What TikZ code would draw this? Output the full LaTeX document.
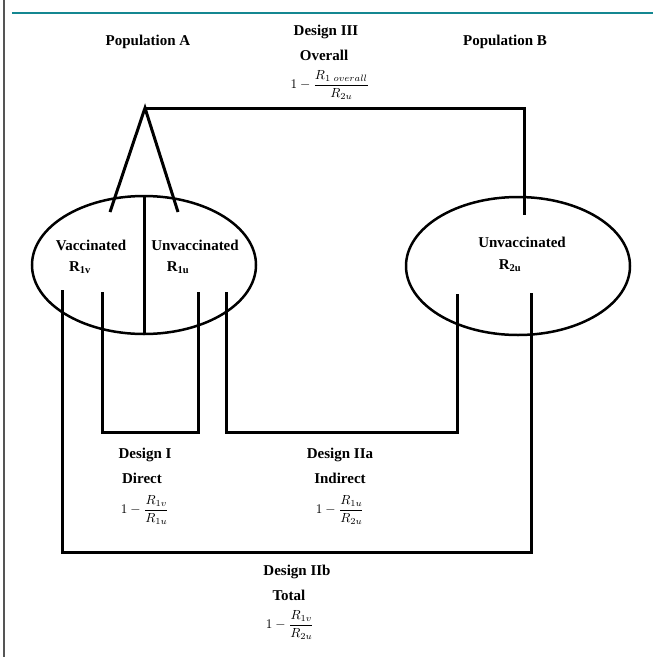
\documentclass[tikz,border=0pt]{standalone}
\usepackage{fontspec}
\setmainfont{Liberation Serif}
\usepackage{amsmath}
\usepackage{graphicx}
\usetikzlibrary{shapes}
\definecolor{rulecolor}{RGB}{20,135,145}
\definecolor{bordercolor}{RGB}{85,85,85}
\newcommand{\effect}[2]{\scalebox{1.32}{$1-\dfrac{#1}{#2}$}}

\begin{document}
\begin{tikzpicture}[x=1pt,y=-1pt,
    title/.style={font=\fontsize{15}{18}\selectfont\bfseries, inner sep=1pt},
    formula/.style={inner sep=1pt},
    wire/.style={line width=3pt, line join=miter},
    pop/.style={ellipse, draw, line width=2.5pt,
                minimum width=224pt, minimum height=138pt}]

  \useasboundingbox (0,0) rectangle (653,657);

  % page rules
  \coordinate (borderT) at (4,0);
  \coordinate (borderB) at (4,657);
  \coordinate (ruleL) at (12,13);
  \coordinate (ruleR) at (653,13);
  \draw[bordercolor, line width=2pt] (borderT) -- (borderB);
  \draw[rulecolor, line width=1.5pt] (ruleL) -- (ruleR);

  % populations
  \node[pop] (popA) at (144,265) {};
  \node[pop] (popB) at (518,266) {};

  \node[title] (nameA) at (148,42) {Population A};
  \node[title] (nameB) at (505,42) {Population B};

  \node[title] (vac) at (91,245) {Vaccinated};
  \node[title] (rOneV) at (80,268) {R\textsubscript{1v}};
  \node[title] (unvacA) at (195,245) {Unvaccinated};
  \node[title] (rOneU) at (178,268) {R\textsubscript{1u}};
  \node[title] (unvacB) at (522,242) {Unvaccinated};
  \node[title] (rTwoU) at (510,266) {R\textsubscript{2u}};

  % design labels
  \node[title] (dThree) at (326,32) {Design III};
  \node[title] (overall) at (324,55) {Overall};
  \node[formula] (fThree) at (330,85) {\effect{R_{1\ overall}}{R_{2u}}};

  \node[title] (dOne) at (145,455) {Design I};
  \node[title] (direct) at (142,478) {Direct};
  \node[formula] (fOne) at (145,510) {\effect{R_{1v}}{R_{1u}}};

  \node[title] (dTwoA) at (340,455) {Design IIa};
  \node[title] (indirect) at (340,478) {Indirect};
  \node[formula] (fTwoA) at (340,510) {\effect{R_{1u}}{R_{2u}}};

  \node[title] (dTwoB) at (297,572) {Design IIb};
  \node[title] (total) at (289,595) {Total};
  \node[formula] (fTwoB) at (290,625) {\effect{R_{1v}}{R_{2u}}};

  % design III path
  \coordinate (apex) at (145,108);
  \coordinate (legL) at (110,212);
  \coordinate (legR) at (178,212);
  \coordinate (cornerIII) at (524,108);
  \coordinate (endIII) at (524,215);
  \draw[wire] (legL) -- (apex) -- (legR);
  \draw[wire] (apex) -- (cornerIII) -- (endIII);
  \draw[wire] (popA.north) -- (popA.south);

  % design I path
  \coordinate (startI) at (102,292);
  \coordinate (cornerIa) at (102,432);
  \coordinate (cornerIb) at (198,432);
  \coordinate (endI) at (198,292);
  \draw[wire] (startI) -- (cornerIa) -- (cornerIb) -- (endI);

  % design IIa path
  \coordinate (startIIa) at (226,292);
  \coordinate (cornerIIa) at (226,432);
  \coordinate (cornerIIb) at (457,432);
  \coordinate (endIIa) at (457,294);
  \draw[wire] (startIIa) -- (cornerIIa) -- (cornerIIb) -- (endIIa);

  % design IIb path
  \coordinate (startIIb) at (62,290);
  \coordinate (cornerIIc) at (62,552);
  \coordinate (cornerIId) at (531,552);
  \coordinate (endIIb) at (531,293);
  \draw[wire] (startIIb) -- (cornerIIc) -- (cornerIId) -- (endIIb);

\end{tikzpicture}
\end{document}
